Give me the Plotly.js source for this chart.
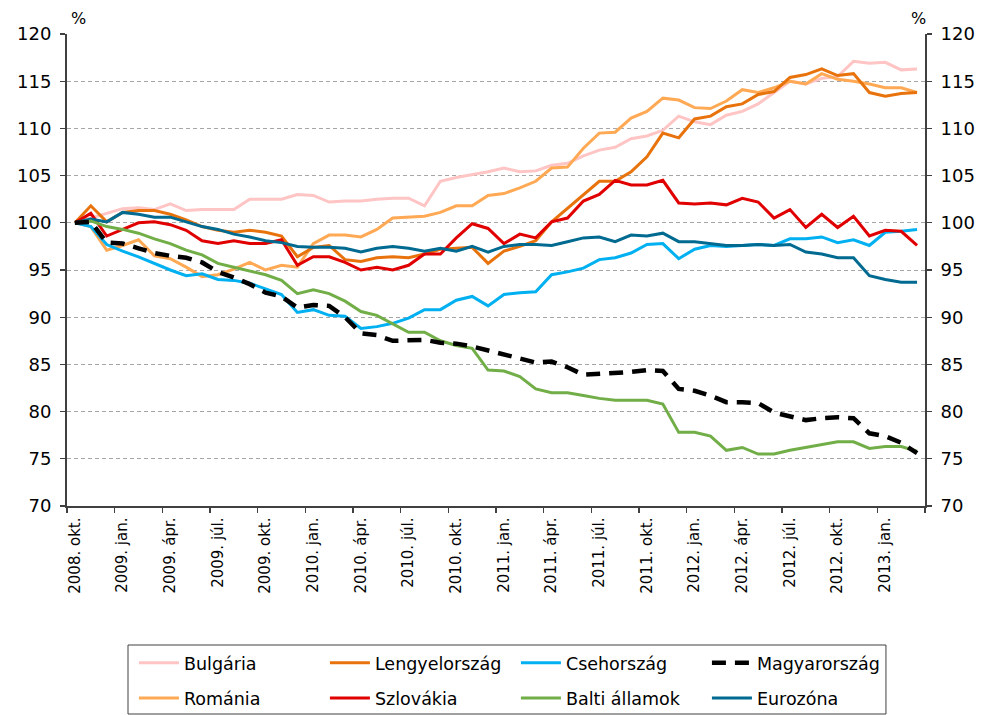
<!DOCTYPE html>
<html>
<head>
<meta charset="utf-8">
<script src="https://cdn.plot.ly/plotly-3.0.1.min.js"></script>
<style>
html,body{margin:0;padding:0;background:#fff;}
#chart{width:983px;height:715px;}
</style>
</head>
<body>
<div id="chart"></div>
<script>
// Tick labels (every third month, starting 2008 Oct)
const tickLabels = ['2008. okt.','2009. jan.','2009. ápr.','2009. júl.','2009. okt.','2010. jan.','2010. ápr.','2010. júl.','2010. okt.','2011. jan.','2011. ápr.','2011. júl.','2011. okt.','2012. jan.','2012. ápr.','2012. júl.','2012. okt.','2013. jan.'];

// Monthly index values, 2008 Oct = 100 (Oct 2008 – Mar 2013)
const bulgaria = [100,100.5,101.0,101.5,101.6,101.4,102.0,101.3,101.4,101.4,
  101.4,102.5,102.5,102.5,103.0,102.9,102.2,102.3,102.3,102.5,
  102.6,102.6,101.8,104.4,104.8,105.1,105.4,105.8,105.4,105.5,
  106.1,106.3,107.1,107.7,108.0,108.9,109.2,109.8,111.3,110.7,
  110.4,111.4,111.8,112.6,113.8,115.0,114.7,115.3,115.5,117.1,
  116.9,117.0,116.2,116.3];
const lengyelorszag = [100,101.8,100.1,101.1,101.3,101.3,100.9,100.3,99.6,99.2,
  99.0,99.2,99.0,98.6,96.4,97.4,97.6,96.1,95.9,96.3,
  96.4,96.3,96.7,97.2,97.3,97.4,95.7,97.0,97.5,98.1,
  100.1,101.5,103.0,104.4,104.4,105.4,107.0,109.5,109.0,111.0,
  111.3,112.3,112.6,113.6,113.9,115.4,115.7,116.3,115.6,115.8,
  113.8,113.4,113.7,113.8];
const csehorszag = [100,99.6,97.7,97.0,96.4,95.7,95.0,94.4,94.6,94.0,
  93.9,93.6,93.0,92.4,90.5,90.8,90.2,90.1,88.8,89.0,
  89.35,89.9,90.8,90.8,91.8,92.2,91.2,92.4,92.6,92.7,
  94.5,94.8,95.2,96.1,96.3,96.8,97.7,97.8,96.2,97.2,
  97.6,97.5,97.6,97.7,97.6,98.3,98.3,98.5,97.9,98.2,
  97.6,99.0,99.1,99.3];
const magyarorszag = [100,100.1,97.9,97.8,97.3,96.8,96.5,96.3,95.8,94.8,
  94.2,93.5,92.6,92.2,91.0,91.3,91.2,90.0,88.3,88.1,
  87.5,87.6,87.6,87.3,87.2,86.9,86.5,86.1,85.6,85.2,
  85.3,84.7,83.9,84.0,84.0,84.2,84.4,84.3,82.4,82.2,
  81.7,81.0,81.0,80.9,79.9,79.5,79.1,79.3,79.4,79.3,
  77.7,77.4,76.7,75.6];
const romania = [100,99.6,97.1,97.6,98.2,96.5,96.2,95.3,94.3,94.5,
  95.1,95.8,95.0,95.5,95.3,97.8,98.7,98.7,98.5,99.3,
  100.5,100.6,100.7,101.1,101.8,101.8,102.9,103.1,103.7,104.4,
  105.8,105.9,107.9,109.5,109.6,111.1,111.8,113.2,113.0,112.2,
  112.1,112.9,114.1,113.8,114.3,115.0,114.7,115.8,115.2,115.0,
  114.7,114.3,114.3,113.8];
const szlovakia = [100,101.0,98.6,99.3,100.0,100.1,99.8,99.2,98.1,97.8,
  98.1,97.8,97.8,98.2,95.5,96.4,96.4,95.8,95.0,95.3,
  95.0,95.5,96.7,96.7,98.4,99.9,99.4,97.8,98.8,98.4,
  100.1,100.5,102.3,103.0,104.5,104.0,104.0,104.5,102.1,102.0,
  102.1,101.9,102.6,102.2,100.5,101.4,99.5,100.9,99.5,100.7,
  98.6,99.2,99.1,97.6];
const baltiAllamok = [100,100.2,99.6,99.3,98.9,98.3,97.8,97.1,96.6,95.7,
  95.3,94.9,94.5,93.9,92.5,92.9,92.5,91.7,90.6,90.2,
  89.3,88.4,88.4,87.5,87.0,86.7,84.4,84.3,83.7,82.4,
  82.0,82.0,81.7,81.4,81.2,81.2,81.2,80.8,77.8,77.8,
  77.4,75.9,76.2,75.5,75.5,75.9,76.2,76.5,76.8,76.8,
  76.1,76.3,76.3,75.8];
const eurozona = [100,100.4,100.1,101.1,100.9,100.6,100.6,100.1,99.6,99.3,
  98.8,98.5,98.1,97.9,97.5,97.4,97.4,97.3,96.9,97.3,
  97.5,97.3,97.0,97.3,97.0,97.5,96.9,97.5,97.7,97.7,
  97.6,98.0,98.4,98.5,98.0,98.7,98.6,98.9,98.0,98.0,
  97.8,97.6,97.6,97.7,97.6,97.7,96.9,96.7,96.3,96.3,
  94.4,94.0,93.7,93.7];

const yTicks = [70,75,80,85,90,95,100,105,110,115,120];
const gridVals = [75,80,85,90,95,100,105,110,115];

const n = bulgaria.length;
const xs = Array.from({length: n}, (_, i) => i);
const labelPos = tickLabels.map((_, k) => k * 3);
const boundaryPos = Array.from({length: Math.floor(n / 3) + 1}, (_, k) => k * 3 - 0.5);

const FONT = '"DejaVu Sans", Verdana, sans-serif';

function tr(name, y, color, opts) {
  opts = opts || {};
  return {
    type: 'scatter', mode: 'lines', x: xs, y: y, name: name,
    line: {color: color, width: opts.width || 3, dash: opts.dash || 'solid'},
    legend: opts.legend, legendrank: opts.rank, hoverinfo: 'skip'
  };
}

const data = [
  tr('Bulgária', bulgaria, '#FFC4C4', {legend: 'legend', rank: 1}),
  tr('Románia', romania, '#FFA955', {legend: 'legend2', rank: 5}),
  tr('Lengyelország', lengyelorszag, '#E8730C', {legend: 'legend', rank: 2}),
  tr('Csehország', csehorszag, '#00B0F0', {legend: 'legend', rank: 3}),
  tr('Szlovákia', szlovakia, '#E00000', {legend: 'legend2', rank: 6}),
  tr('Eurozóna', eurozona, '#006A91', {legend: 'legend2', rank: 8}),
  tr('Balti államok', baltiAllamok, '#72AE48', {legend: 'legend2', rank: 7}),
  tr('Magyarország', magyarorszag, '#000000', {legend: 'legend', rank: 4, width: 4.5, dash: '14px,9px'})
];
// invisible helper traces for the secondary axes
data.push({type: 'scatter', mode: 'lines', x: [xs[0]], y: [100], xaxis: 'x2', yaxis: 'y2', showlegend: false, hoverinfo: 'skip', line: {width: 0}});
data.push({type: 'scatter', mode: 'lines', x: [xs[0]], y: [100], xaxis: 'x', yaxis: 'y3', showlegend: false, hoverinfo: 'skip', line: {width: 0}});

const axisCol = '#404040';
const legendCommon = {
  orientation: 'h', xanchor: 'left', yanchor: 'middle',
  entrywidth: 136, entrywidthmode: 'pixels', itemwidth: 40,
  font: {family: FONT, size: 17.5, color: '#000'}, bgcolor: 'rgba(0,0,0,0)', borderwidth: 0,
  traceorder: 'normal'
};
const layout = {
  width: 983, height: 715,
  margin: {l: 67, r: 58, t: 34, b: 209, autoexpand: false},
  paper_bgcolor: '#fff', plot_bgcolor: '#fff',
  font: {family: FONT, size: 16, color: '#000'},
  showlegend: true,
  xaxis: {
    range: [-0.5, n - 0.5], tickmode: 'array', tickvals: labelPos, ticktext: tickLabels,
    tickangle: -90, ticks: '', showgrid: false, zeroline: false,
    showline: true, linecolor: axisCol, linewidth: 1.5,
    tickfont: {family: FONT, size: 15, color: '#000'}, ticklabelstandoff: 4
  },
  xaxis2: {
    overlaying: 'x', anchor: 'y', side: 'bottom', range: [-0.5, n - 0.5],
    tickmode: 'array', tickvals: boundaryPos, ticks: 'outside', ticklen: 6, tickwidth: 1.2,
    tickcolor: axisCol, showticklabels: false, showgrid: false, zeroline: false, showline: false
  },
  yaxis: {
    range: [70, 120], tickmode: 'array', tickvals: yTicks, ticks: 'outside', ticklen: 5,
    tickcolor: axisCol, tickwidth: 1.2, showgrid: false, zeroline: false,
    showline: true, linecolor: axisCol, linewidth: 2,
    tickfont: {family: FONT, size: 18, color: '#000'}, ticklabelstandoff: 5
  },
  yaxis2: {
    overlaying: 'y', side: 'right', anchor: 'x', range: [70, 120], tickmode: 'array', tickvals: yTicks,
    ticks: 'outside', ticklen: 5, tickcolor: axisCol, tickwidth: 1.2, showgrid: false, zeroline: false,
    showline: true, linecolor: axisCol, linewidth: 2,
    tickfont: {family: FONT, size: 18, color: '#000'}, ticklabelstandoff: 5
  },
  yaxis3: {
    overlaying: 'y', range: [70, 120], tickmode: 'array', tickvals: gridVals,
    showticklabels: false, ticks: '', showgrid: true, gridcolor: '#A6A6A6', gridwidth: 1,
    griddash: '4px,3px', zeroline: false, showline: false
  },
  legend: Object.assign({}, legendCommon, {x: 0.078, y: -0.3326}),
  legend2: Object.assign({}, legendCommon, {x: 0.078, y: -0.4068}),
  shapes: [{
    type: 'rect', xref: 'paper', yref: 'paper', x0: 0.0711, x1: 0.9545, y0: -0.2945, y1: -0.4407,
    line: {color: '#404040', width: 1}, fillcolor: 'rgba(0,0,0,0)', layer: 'below'
  }],
  annotations: [
    {text: '%', xref: 'paper', yref: 'paper', x: 0.013, y: 1.0, yanchor: 'bottom', xanchor: 'center', yshift: 4, showarrow: false, font: {family: FONT, size: 16, color: '#000'}},
    {text: '%', xref: 'paper', yref: 'paper', x: 0.992, y: 1.0, yanchor: 'bottom', xanchor: 'center', yshift: 4, showarrow: false, font: {family: FONT, size: 16, color: '#000'}}
  ]
};

Plotly.newPlot('chart', data, layout, {displayModeBar: false, staticPlot: true});
</script>
</body>
</html>
